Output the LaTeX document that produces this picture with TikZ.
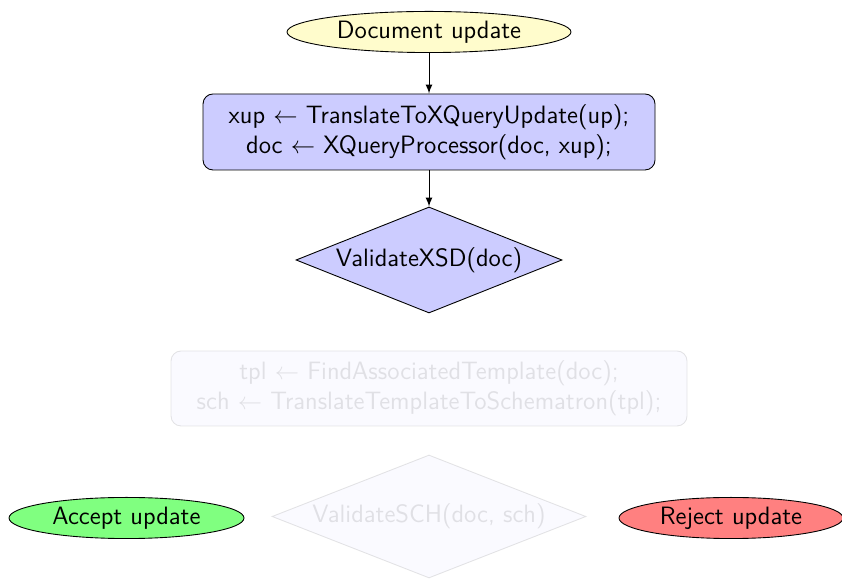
\documentclass[tikz,border=0pt]{standalone}
\usetikzlibrary{shapes.geometric,arrows}
\renewcommand{\familydefault}{\sfdefault}
\begin{document}
\begin{tikzpicture}[x=0.45pt,y=-0.45pt,
  font=\sffamily\fontsize{11.3}{13.4}\selectfont,
  every node/.style={inner sep=0pt},
  terminal/.style={ellipse,draw,minimum width=#1,minimum height=18.5pt},
  process/.style={rectangle,rounded corners=4.5pt,draw,fill=blue!20,align=center},
  decision/.style={diamond,draw,fill=blue!20,aspect=2.5},
  faded/.style={opacity=0.1},
  flow/.style={-latex}]
\useasboundingbox (0,0) rectangle (842,579);

\node[terminal=127.8pt,fill=yellow!20] (start) at (429,32) {Document update};
\node[process,minimum width=203.4pt,minimum height=34.2pt] (xq) at (429,132)
  {xup $\leftarrow$ TranslateToXQueryUpdate(up);\\ doc $\leftarrow$ XQueryProcessor(doc, xup);};
\node[decision,minimum width=119.7pt,minimum height=47.7pt] (xsd) at (429,260) {ValidateXSD(doc)};

\node[process,faded,minimum width=232.2pt,minimum height=33.75pt] (tpl) at (429,388.5)
  {tpl $\leftarrow$ FindAssociatedTemplate(doc);\\ sch $\leftarrow$ TranslateTemplateToSchematron(tpl);};
\node[decision,faded,aspect=2.55,minimum width=141.3pt,minimum height=55.35pt] (sch) at (429,516.5) {ValidateSCH(doc, sch)};

\node[terminal=105.75pt,fill=green!50] (accept) at (126.5,518) {Accept update};
\node[terminal=100.8pt,fill=red!50] (reject) at (731,518) {Reject update};

\draw[flow] (start) -- (xq);
\draw[flow] (xq) -- (xsd);
\end{tikzpicture}
\end{document}
